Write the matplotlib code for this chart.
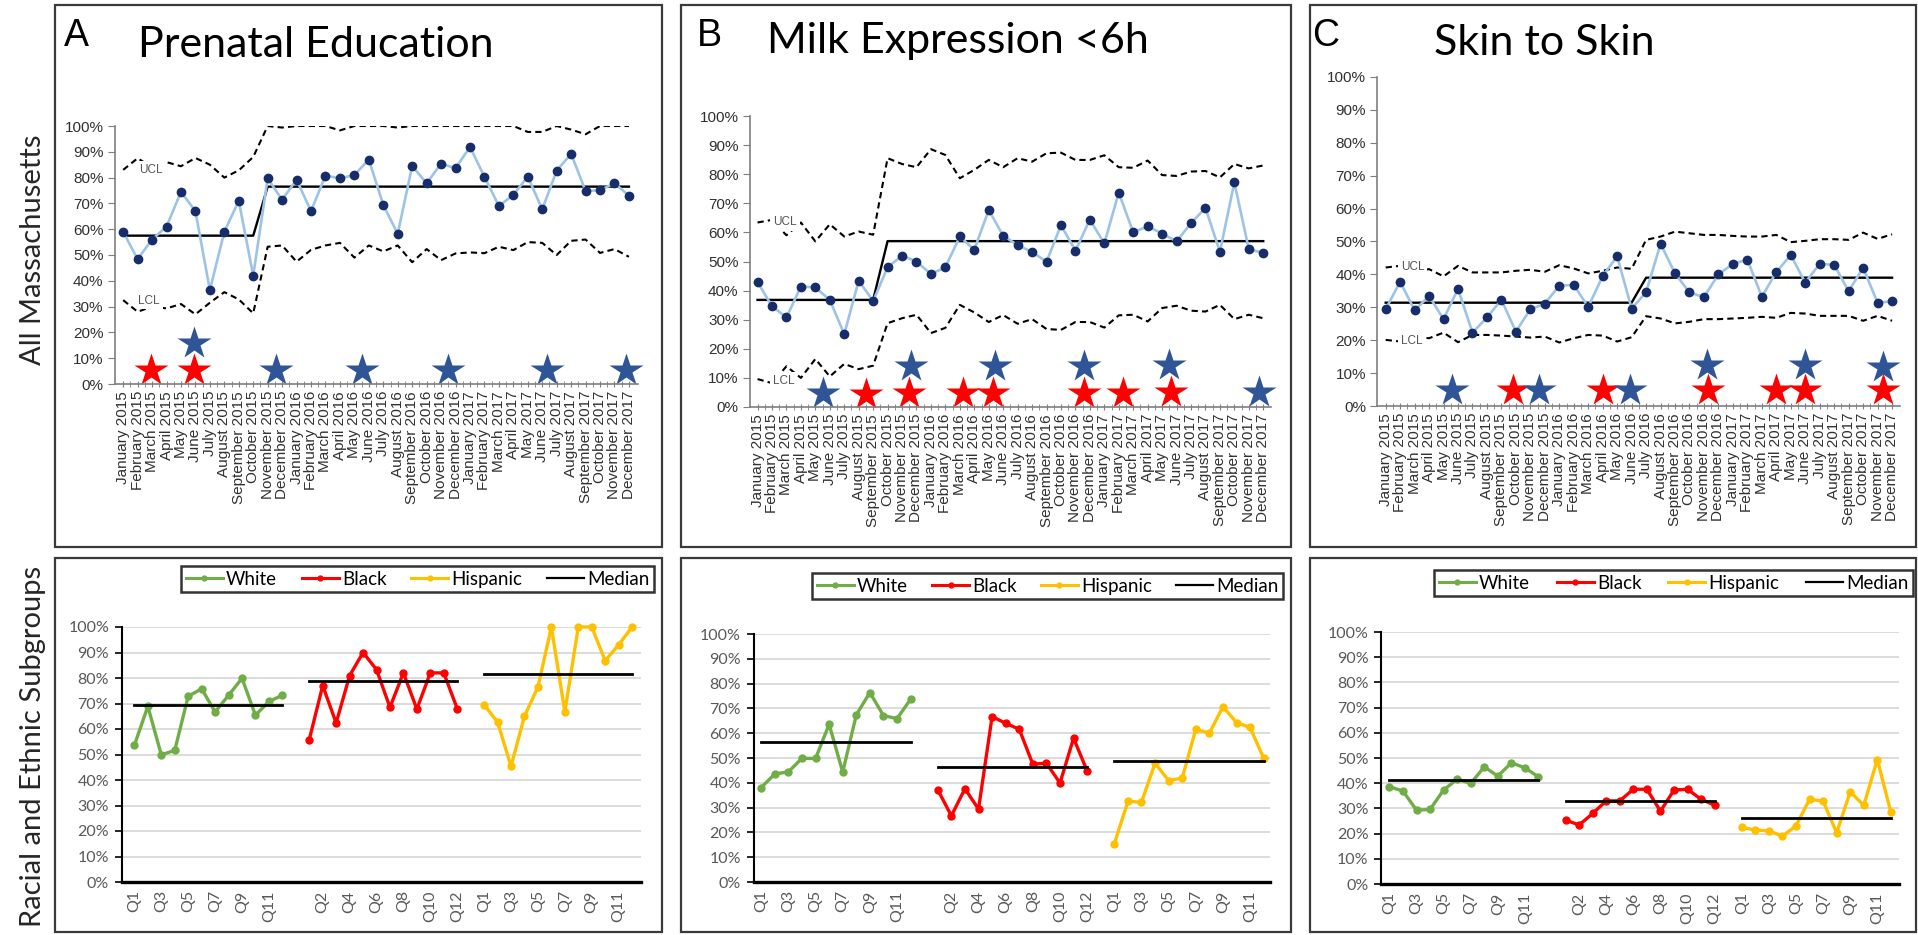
import matplotlib
matplotlib.use('Agg')
import matplotlib.pyplot as plt
from matplotlib.lines import Line2D
from matplotlib.patches import Rectangle

W, H = 1918, 935

plt.rcParams['font.family'] = ['Liberation Sans', 'DejaVu Sans']
CAL = ['Lato', 'DejaVu Sans']

# month axis of the run charts
months = ['January', 'February', 'March', 'April', 'May', 'June', 'July',
          'August', 'September', 'October', 'November', 'December']
years = ['2015', '2016', '2017']
month_labels = [f'{m} {y}' for y in years for m in months]

quarters = ['Q1', 'Q2', 'Q3', 'Q4', 'Q5', 'Q6', 'Q7', 'Q8', 'Q9', 'Q10', 'Q11', 'Q12']

# ---- A: prenatal education, all Massachusetts ----
prenatal_pct = [59, 48.4, 56, 61, 74.5, 67, 36.4, 59, 71, 42, 79.7, 71.4,
                79.2, 67, 80.8, 79.7, 81, 87, 69.4, 58.2, 84.5, 77.8, 85.4, 83.6,
                91.9, 80.3, 69, 73.3, 80.4, 67.7, 82.7, 89.2, 74.8, 75.1, 77.8, 73]
prenatal_median = [57.5, 57.5, 57.5, 57.5, 57.5, 57.5, 57.5, 57.5, 57.5, 57.5, 76.5, 76.5,
                   76.5, 76.5, 76.5, 76.5, 76.5, 76.5, 76.5, 76.5, 76.5, 76.5, 76.5, 76.5,
                   76.5, 76.5, 76.5, 76.5, 76.5, 76.5, 76.5, 76.5, 76.5, 76.5, 76.5, 76.5]
prenatal_ucl = [83, 87.5, 84, 86, 84.4, 87.6, 85, 80, 82.8, 88, 100, 99.4,
                100, 100, 100, 98.3, 100, 100, 100, 99.4, 100, 100, 100, 100,
                100, 100, 100, 100, 97.7, 97.7, 100, 98.6, 96.8, 100, 100, 100]
prenatal_lcl = [32.5, 28, 30, 29.3, 31, 27, 31.5, 35.6, 32.8, 27.4, 53.2, 53.7,
                47.4, 52, 53.7, 54.7, 49, 53.7, 51.4, 53.7, 47.2, 52.3, 48, 50.6,
                51, 50.7, 53.2, 51.9, 55, 54.7, 50, 55.5, 56, 50.8, 52.3, 49.3]
prenatal_red_x = [1.93, 4.92]
prenatal_red_y = [5.4, 5.4]
prenatal_blue_x = [4.92, 10.6, 16.5, 22.5, 29.3, 34.8]
prenatal_blue_y = [15.7, 5.4, 5.4, 5.4, 5.4, 5.4]

# ---- B: milk expression <6h ----
milk_pct = [43, 34.6, 30.8, 41.4, 41.1, 36.8, 25, 43.4, 36.4, 48, 52, 50,
            45.7, 48, 58.6, 54, 67.7, 58.9, 55.6, 53.3, 49.9, 62.5, 53.7, 64.4,
            56.2, 73.7, 60, 62.1, 59.6, 56.9, 63.2, 68.4, 53.3, 77.2, 54.2, 53]
milk_median = [36.8, 36.8, 36.8, 36.8, 36.8, 36.8, 36.8, 36.8, 36.8, 57, 57, 57,
               57, 57, 57, 57, 57, 57, 57, 57, 57, 57, 57, 57,
               57, 57, 57, 57, 57, 57, 57, 57, 57, 57, 57, 57]
milk_ucl = [63.4, 64.3, 59, 63.4, 56.9, 62.8, 58.6, 60.3, 59.2, 85.5, 83.5, 82.4,
            88.6, 86.6, 78.6, 81.5, 84.9, 82.4, 85.5, 84.3, 87.2, 87.4, 84.9, 84.9,
            86.5, 82.4, 82.2, 84.7, 79.7, 79.4, 80.9, 81.1, 78.9, 83.5, 82, 83]
milk_lcl = [9.6, 8.2, 14, 10, 16.5, 10.5, 14.8, 13, 14.2, 28.8, 30.5, 31.7,
            25.4, 27.2, 35.1, 32.5, 29.2, 31.6, 28.6, 30.2, 26.8, 26.5, 29.2, 29.2,
            27.3, 31.5, 31.7, 29.4, 34, 34.8, 33.1, 32.8, 35.1, 30.2, 31.7, 30.5]
milk_red_x = [7.5, 10.5, 14.2, 16.3, 22.6, 25.3, 28.6]
milk_red_y = [4.3, 4.8, 4.8, 4.8, 4.8, 4.8, 5.3]
milk_blue_x = [4.5, 10.6, 16.4, 22.6, 28.5, 34.7]
milk_blue_y = [4.8, 14, 14, 14, 14.5, 5.3]

# ---- C: skin to skin ----
skin_pct = [29.4, 37.8, 29.1, 33.4, 26.4, 35.6, 22.3, 26.9, 32.3, 22.6, 29.4, 31.1,
            36.6, 36.8, 30.1, 39.5, 45.5, 29.6, 34.6, 49.3, 40.3, 34.5, 33.1, 40,
            43.2, 44.5, 33.2, 40.7, 45.9, 37.5, 43.2, 42.9, 34.9, 42, 31.4, 31.8]
skin_median = [31.4, 31.4, 31.4, 31.4, 31.4, 31.4, 31.4, 31.4, 31.4, 31.4, 31.4, 31.4,
               31.4, 31.4, 31.4, 31.4, 31.4, 31.4, 39, 39, 39, 39, 39, 39,
               39, 39, 39, 39, 39, 39, 39, 39, 39, 39, 39, 39]
skin_ucl = [42.1, 42.6, 41, 41.6, 39.4, 42.6, 40.6, 40.6, 40.6, 41.1, 41.4, 40.8,
            42.8, 41.8, 40.3, 41.1, 42.1, 41.7, 50.5, 51.5, 53, 52.5, 52, 52,
            51.7, 51.5, 51.5, 52, 49.8, 50.2, 50.7, 50.7, 50.5, 52.7, 50.8, 52.2]
skin_lcl = [20.1, 19.6, 21, 20.6, 22.3, 19.4, 21.6, 21.6, 21.4, 21.1, 20.8, 21.1,
            19.3, 20.6, 21.6, 21.4, 19.6, 20.9, 27.3, 26.6, 25.1, 25.6, 26.4, 26.4,
            26.6, 26.8, 27.1, 26.8, 28.3, 28.1, 27.4, 27.4, 27.4, 25.9, 27.4, 25.9]
skin_red_x = [8.8, 15, 22.3, 27, 29, 34.4]
skin_red_y = [5, 5, 5, 5, 5, 5]
skin_blue_x = [4.6, 10.6, 16.9, 22.2, 29, 34.4]
skin_blue_y = [5, 5, 5, 12.6, 12.6, 12]

# ---- quarterly subgroup series ----
prenatal_white = [53.6, 68.9, 49.9, 51.6, 72.8, 75.8, 66.7, 73.2, 79.9, 65.4, 70.8, 73.2]
prenatal_black = [55.8, 77, 62.4, 80.9, 90, 83.3, 68.5, 82, 67.8, 82, 82, 68]
prenatal_hispanic = [69.5, 62.7, 45.4, 65, 76.5, 100, 66.7, 100, 100, 86.8, 93, 100]
prenatal_sub_medians = [69.3, 79, 81.7]

milk_white = [38.1, 43.6, 44.4, 49.9, 49.8, 63.6, 44.3, 67.4, 76.4, 67.1, 65.9, 73.7]
milk_black = [37.2, 26.7, 37.6, 29.4, 66.7, 64, 61.6, 47.5, 47.9, 39.9, 58, 44.8]
milk_hispanic = [15.4, 32.5, 32.2, 47.9, 40.9, 41.9, 61.6, 60, 70.7, 64.3, 62.3, 49.9]
milk_sub_medians = [56.5, 46.2, 48.9]

skin_white = [38.6, 36.9, 29.3, 29.6, 37.3, 41.6, 39.9, 46.5, 42.8, 48.1, 46.1, 42.5]
skin_black = [25.4, 23.4, 28, 33, 33, 37.6, 37.6, 28.9, 37.3, 37.6, 33.6, 31.3]
skin_hispanic = [22.5, 21.4, 21.1, 19, 23.1, 33.6, 32.9, 20.3, 36.6, 31.2, 49.4, 28.5]
skin_sub_medians = [41.2, 32.9, 26]

GREEN, RED, GOLD = '#70AD47', '#FF0000', '#FFC000'
NAVY, LIGHTBLUE, STARBLUE = '#172C6B', '#9DC3E6', '#2F5597'

fig = plt.figure(figsize=(W / 100, H / 100), dpi=100)


def px_axes(left, top, right, bottom):
    return fig.add_axes([left / W, 1 - bottom / H, (right - left) / W, (bottom - top) / H])


def px_frame(left, top, right, bottom):
    fig.add_artist(Rectangle((left / W, 1 - bottom / H), (right - left) / W, (bottom - top) / H,
                             transform=fig.transFigure, fill=False, ec='#3a3a3a', lw=1.6))


def run_chart(ax, pct, median, ucl, lcl, red_x, red_y, blue_x, blue_y, xlim, ucl_at, lcl_at):
    x = list(range(len(pct)))
    dash = (0, (3, 2))
    ax.plot(x, ucl, color='black', lw=1.5, ls=dash)
    ax.plot(x, lcl, color='black', lw=1.5, ls=dash)
    ax.plot(x, median, color='black', lw=1.7)
    ax.plot(x, pct, color=LIGHTBLUE, lw=1.9, marker='o', ms=6, mfc=NAVY, mec=NAVY)
    ax.plot(red_x, red_y, ls='none', marker='*', ms=25, color=RED, mec='none', clip_on=False)
    ax.plot(blue_x, blue_y, ls='none', marker='*', ms=25, color=STARBLUE, mec='none', clip_on=False)
    box = dict(fc='white', ec='none', pad=2)
    ax.text(ucl_at[0], ucl_at[1], 'UCL', fontsize=8.5, color='#555555', ha='center', va='center', bbox=box)
    ax.text(lcl_at[0], lcl_at[1], 'LCL', fontsize=8.5, color='#555555', ha='center', va='center', bbox=box)

    ax.set_xlim(xlim)
    ax.set_ylim(0, 100)
    ax.set_yticks(range(0, 101, 10))
    ax.set_yticklabels([f'{v}%' for v in range(0, 101, 10)], fontsize=11, color='#303030')
    ax.set_xticks(x)
    ax.set_xticklabels(month_labels, rotation=90, fontsize=11, color='#303030')
    ax.set_xticks([i + 0.5 for i in x[:-1]], minor=True)
    ax.tick_params(axis='x', which='both', length=4, direction='inout', color='#7f7f7f', pad=3)
    ax.tick_params(axis='y', length=5, color='#7f7f7f', pad=3)
    for side in ['top', 'right']:
        ax.spines[side].set_visible(False)
    for side in ['left', 'bottom']:
        ax.spines[side].set_color('#7f7f7f')
        ax.spines[side].set_linewidth(1.2)


def subgroup_chart(ax, white, black, hispanic, medians, xlim, legend_box):
    cats = quarters + [''] + quarters + [''] + quarters
    xw = list(range(0, 12))
    xb = list(range(13, 25))
    xh = list(range(26, 38))
    ax.grid(axis='y', color='#D9D9D9', lw=1.3)
    ax.set_axisbelow(True)
    for xs, vals, col in [(xw, white, GREEN), (xb, black, RED), (xh, hispanic, GOLD)]:
        ax.plot(xs, vals, color=col, lw=2.4, marker='o', ms=5, clip_on=False)
    for xs, m in zip([xw, xb, xh], medians):
        ax.plot([xs[0], xs[-1]], [m, m], color='black', lw=2)

    ax.set_xlim(xlim)
    ax.set_ylim(0, 100)
    ax.set_yticks(range(0, 101, 10))
    ax.set_yticklabels([f'{v}%' for v in range(0, 101, 10)], fontsize=11.5,
                       color='#595959', family=CAL)
    ax.set_xticks(list(range(0, 38, 2)))
    ax.set_xticklabels(cats[::2], rotation=90, fontsize=11.5, color='#595959', family=CAL)
    ax.tick_params(axis='x', length=0, pad=6)
    ax.tick_params(axis='y', length=5, width=1.2, color='black', pad=4)
    for side in ['top', 'right']:
        ax.spines[side].set_visible(False)
    ax.spines['left'].set_linewidth(1.5)
    ax.spines['bottom'].set_linewidth(2.4)

    handles = [Line2D([], [], color=GREEN, lw=2.2, marker='o', ms=3.5),
               Line2D([], [], color=RED, lw=2.2, marker='o', ms=3.5),
               Line2D([], [], color=GOLD, lw=2.2, marker='o', ms=3.5),
               Line2D([], [], color='black', lw=1.6)]
    l, t, r, b = legend_box
    leg = ax.legend(handles, ['White', 'Black', 'Hispanic', 'Median'], ncol=4,
                    loc='upper left', mode='expand',
                    bbox_to_anchor=(l / W, 1 - b / H, (r - l) / W, (b - t) / H),
                    bbox_transform=fig.transFigure, fancybox=False, edgecolor='black',
                    prop={'family': CAL, 'size': 13.5}, handlelength=2.0,
                    handletextpad=0.15, columnspacing=1.0, borderpad=0.25,
                    borderaxespad=0)
    leg.get_frame().set_linewidth(1.8)


# panel frames
for left, right in [(55, 662), (681, 1291), (1310, 1916)]:
    px_frame(left, 5, right, 547)
    px_frame(left, 558, right, 932)

# top row: monthly run charts
ax_a = px_axes(114.5, 126, 637.6, 384)
run_chart(ax_a, prenatal_pct, prenatal_median, prenatal_ucl, prenatal_lcl,
          prenatal_red_x, prenatal_red_y, prenatal_blue_x, prenatal_blue_y,
          (-0.6, 35.6), (1.9, 83), (1.8, 32.3))

ax_b = px_axes(749.6, 116, 1271.2, 407)
run_chart(ax_b, milk_pct, milk_median, milk_ucl, milk_lcl,
          milk_red_x, milk_red_y, milk_blue_x, milk_blue_y,
          (-0.55, 35.55), (1.9, 63.5), (1.8, 9))

ax_c = px_axes(1377, 77, 1900, 406)
run_chart(ax_c, skin_pct, skin_median, skin_ucl, skin_lcl,
          skin_red_x, skin_red_y, skin_blue_x, skin_blue_y,
          (-0.6, 35.55), (1.85, 42.2), (1.8, 19.8))

# bottom row: quarterly subgroup charts
ax_d = px_axes(121.6, 627, 640.7, 882)
subgroup_chart(ax_d, prenatal_white, prenatal_black, prenatal_hispanic,
               prenatal_sub_medians, (-0.95, 37.64), (181, 566, 654, 598))

ax_e = px_axes(753.5, 634, 1269.8, 882)
subgroup_chart(ax_e, milk_white, milk_black, milk_hispanic,
               milk_sub_medians, (-0.57, 37.45), (812, 573, 1283, 605))

ax_f = px_axes(1381, 632, 1899, 884)
subgroup_chart(ax_f, skin_white, skin_black, skin_hispanic,
               skin_sub_medians, (-0.62, 37.6), (1434, 570, 1913, 599))

# panel letters and titles
for x, label in [(64, 'A'), (697, 'B'), (1312, 'C')]:
    fig.text(x / W, 1 - 46 / H, label, fontsize=27, va='baseline', ha='left')
for x, y, title in [(138, 57, 'Prenatal Education'), (767, 53, 'Milk Expression <6h'),
                    (1434, 55, 'Skin to Skin')]:
    fig.text(x / W, 1 - y / H, title, fontsize=31, family=CAL, va='baseline', ha='left')

# row labels
fig.text(33 / W, 1 - 250 / H, 'All Massachusetts', rotation=90, fontsize=21,
         family=CAL, color='#262626', ha='center', va='center')
fig.text(33 / W, 1 - 746 / H, 'Racial and Ethnic Subgroups', rotation=90, fontsize=21,
         family=CAL, color='#262626', ha='center', va='center')

fig.savefig('out.png', dpi=100)
